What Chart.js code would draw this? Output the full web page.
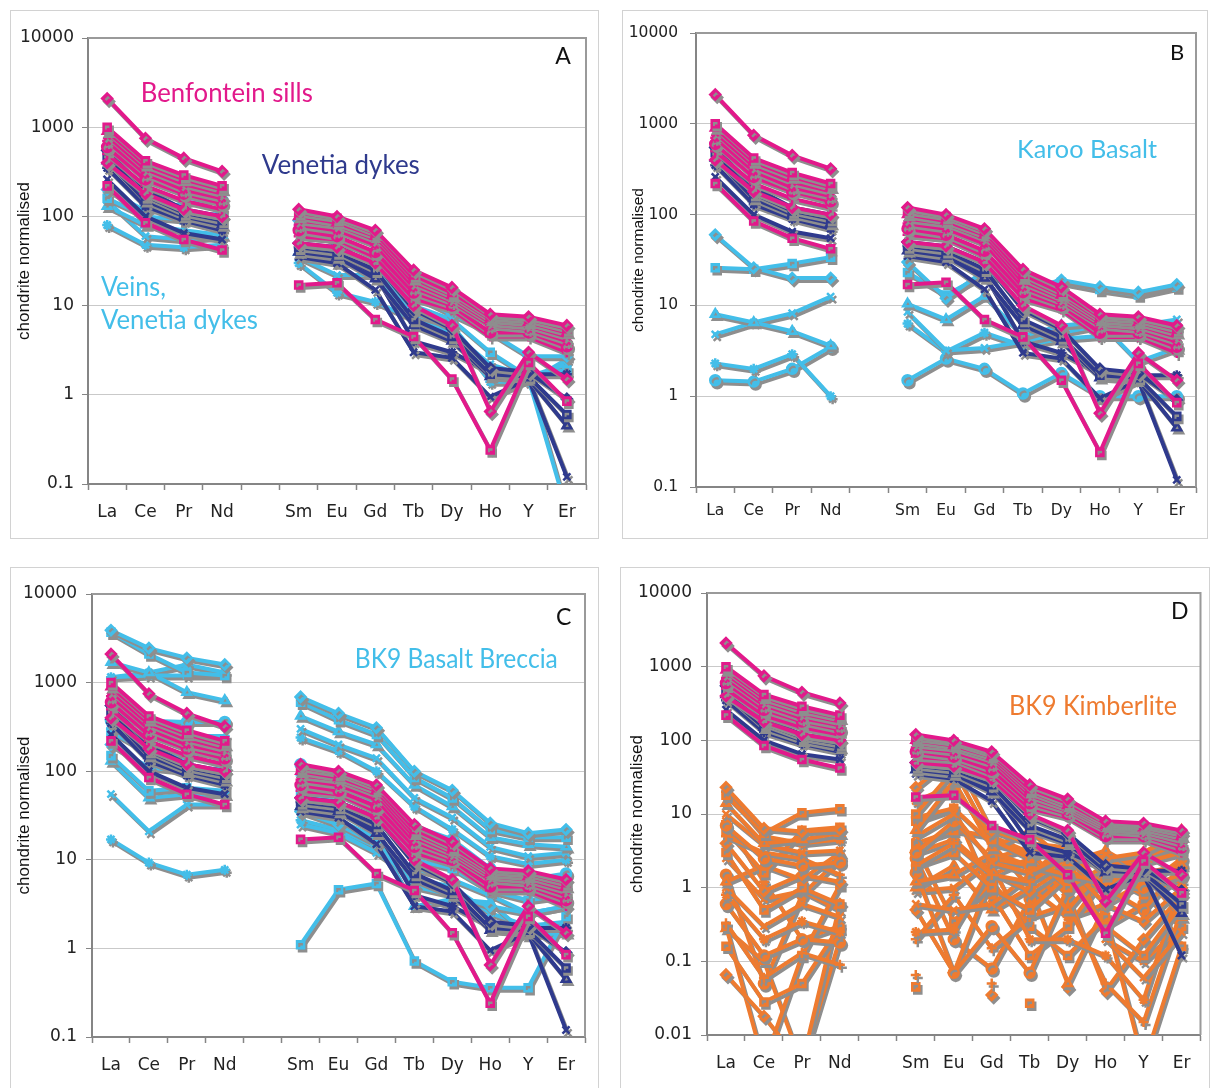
<!DOCTYPE html>
<html>
<head>
<meta charset="utf-8">
<script src="https://cdn.jsdelivr.net/npm/chart.js@4.4.0/dist/chart.umd.min.js"></script>
<style>
body { margin: 0; background: #fff; width: 1210px; height: 1088px; position: relative; overflow: hidden; }
.frame { position: absolute; border: 1.5px solid #d2d2d2; box-sizing: border-box; }
canvas { position: absolute; }
</style>
</head>
<body>
<div class="frame" style="left:10px;top:10px;width:589px;height:529px"></div>
<div class="frame" style="left:622px;top:10px;width:586px;height:529px"></div>
<div class="frame" style="left:10px;top:567px;width:589px;height:530px"></div>
<div class="frame" style="left:620px;top:567px;width:590px;height:530px"></div>
<canvas id="cA" width="588" height="528" style="left:10px;top:10px"></canvas>
<canvas id="cB" width="585" height="528" style="left:622px;top:10px"></canvas>
<canvas id="cC" width="588" height="521" style="left:10px;top:567px"></canvas>
<canvas id="cD" width="588" height="521" style="left:620px;top:567px"></canvas>
<script>
// element order (blank slot = gap between Nd and Sm)
const elements = ["La", "Ce", "Pr", "Nd", "", "Sm", "Eu", "Gd", "Tb", "Dy", "Ho", "Y", "Er"];
const decadeTicks = [0.1, 1, 10, 100, 1000, 10000];
const decadeLabels = ["0.1", "1", "10", "100", "1000", "10000"];
const decadeTicksD = [0.01, 0.1, 1, 10, 100, 1000, 10000];
const decadeLabelsD = ["0.01", "0.1", "1", "10", "100", "1000", "10000"];

// chondrite normalised values, one row per sample
const benfonteinSills = [
  [2100, 750, 450, 320, null, 120, 100, 70, 25, 16, 8, 7.5, 6],
  [1000, 420, 290, 220, null, 110, 95, 65, 22, 14, 7.5, 7, 5.5],
  [900, 380, 260, 200, null, 100, 85, 60, 20, 13, 7, 6.5, 5],
  [800, 340, 230, 180, null, 90, 80, 55, 18, 12, 6.5, 6, 4.5],
  [700, 300, 200, 160, null, 80, 70, 48, 16, 11, 6, 5.5, 4],
  [600, 260, 180, 140, null, 70, 60, 40, 14, 10, 5, 5, 3.5],
  [500, 220, 150, 120, null, 60, 55, 35, 12, 9, 4.5, 4.5, 3],
  [220, 85, 55, 42, null, 17, 18, 7, 4.5, 1.5, 0.24, 2.3, 0.85],
  [400, 180, 120, 100, null, 50, 45, 30, 10, 6, 0.65, 3, 1.5]
];
const venetiaDykes = [
  [550, 200, 120, 100, null, 50, 45, 30, 9, 5.5, 2, 1.8, 0.9],
  [480, 170, 110, 90, null, 45, 40, 25, 7, 4.5, 1.7, 1.6, 0.6],
  [420, 150, 100, 80, null, 40, 35, 20, 6, 4, 1.6, 1.5, 0.45],
  [260, 100, 65, 55, null, 35, 30, 15, 3, 2.6, 0.95, 1.5, 0.12],
  [350, 130, 90, 70, null, 45, 40, 22, 4, 3, 1.8, 1.7, 1.7]
];
const veinsVenetia = [
  [200, 115, 140, 160, null, 90, 70, 50, 13, 8, 5, 2.7, 2.7],
  [160, 100, 92, 110, null, 80, 50, 40, 10, 7, 3, 1.6, 1.9],
  [130, 80, 70, 62, null, 40, 30, 30, 8, 6, 1.8, 1.5, 0.05],
  [150, 60, 55, 60, null, 35, 22, 22, 7, 5, 2.2, 1.6, 2.2],
  [80, 48, 45, 48, null, 30, 14, 11, 7, 5, 1.4, 1.4, 2.5]
];
const karooBasalt = [
  [60, 26, 20, 20, null, 30, 12, 24, 15, 19, 16, 14, 17],
  [26, 25, 29, 34, null, 23, 13, 22, 16, 18, 15, 13, 16],
  [8, 6.5, 5.2, 3.6, null, 10.4, 7, 12.7, 4.6, 6, 6.5, 2.4, 3.4],
  [4.8, 6.5, 8.2, 12.5, null, 8.5, 3.2, 3.4, 4, 5, 6, 6, 7],
  [2.3, 2.0, 2.9, 1.0, null, 6.3, 3.1, 5, 3.6, 4.3, 4.6, 4.6, 5.5],
  [1.5, 1.45, 2.0, 3.5, null, 1.5, 2.6, 2.0, 1.07, 1.8, 1.0, 1.0, 1.0]
];
const bk9Breccia = [
  [3900, 2450, 1900, 1600, null, 690, 450, 310, 100, 61, 26, 20, 22],
  [3700, 2100, 1300, 1200, null, 600, 380, 260, 85, 50, 22, 18, 18],
  [1700, 1300, 780, 630, null, 420, 280, 200, 70, 40, 18, 15, 14],
  [1150, 1200, 1200, 1200, null, 300, 200, 140, 50, 30, 14, 11, 12],
  [1150, 1300, 1600, 1300, null, 240, 170, 100, 40, 22, 11, 9, 10],
  [370, 370, 360, 360, null, 120, 85, 60, 24, 17, 8, 6, 7],
  [300, 260, 250, 250, null, 90, 70, 40, 16, 12, 6, 4.5, 5],
  [280, 160, 150, 170, null, 60, 45, 30, 10, 8, 4.5, 3.5, 4],
  [200, 110, 100, 110, null, 35, 25, 15, 5, 4, 3, 2.5, 3],
  [150, 60, 65, 60, null, 1.1, 4.6, 5.4, 0.72, 0.42, 0.36, 0.36, 2.3],
  [130, 50, 55, 55, null, 40, 28, 18, 3, 3.6, 3.3, 1.4, 1.5],
  [55, 21, 42, 42, null, 25, 20, 12, 6, 5, 2.5, 1.8, 2],
  [17, 9.3, 6.8, 7.7, null, 28, 22, 14, 8, 6, 4, 2.5, 3]
];
const bk9Kimberlite = [
  [23, 6.4, 5.8, 6.2, null, 23, 60, 6, 4, 3.5, 2.5, 3, 5.5],
  [18, 5.5, 10.4, 11.8, null, 10, 40, 4.5, 2.5, 4, 1.5, 2.2, 3],
  [14, 4, 4.5, 5.5, null, 6, 28, 3.5, 6, 2.2, 3.2, 1.6, 2],
  [10, 3.8, 3, 3.2, null, 5, 10, 2.2, 1.6, 3, 1, 2.6, 4],
  [20, 5, 4, 4.5, null, 9, 12, 4, 3, 2.5, 2, 2.5, 3.5],
  [7, 2.5, 2, 2.2, null, 3, 8, 2.5, 2, 1.5, 1.2, 1, 2.5],
  [5, 3, 2.5, 1.5, null, 2, 4, 1.5, 1.2, 2.5, 0.8, 1.8, 0.9],
  [6, 1.6, 6, 6.6, null, 4, 6, 5, 3, 1, 2, 1, 1.5],
  [4, 0.9, 1.5, 1.2, null, 3, 4.5, 1.6, 0.9, 2, 0.6, 0.35, 1],
  [3, 0.5, 1, 0.6, null, 2, 3, 1, 0.5, 1.5, 0.3, 0.12, 0.6],
  [1.2, 2, 1.3, 3, null, 1.2, 1.5, 3, 2, 0.5, 2, 1.5, 0.4],
  [1, 0.3, 0.6, 0.4, null, 0.6, 0.5, 0.6, 1.5, 4, 0.2, 0.06, 0.25],
  [0.8, 0.2, 0.35, 0.25, null, 0.25, 0.27, 2, 0.2, 0.2, 0.12, 0.03, 1.2],
  [0.6, 0.12, 0.2, 0.18, null, 1.6, 0.07, 0.3, 0.07, 1, 1, 0.5, 2],
  [0.33, 0.06, 0.13, 0.09, null, 0.2, 0.8, 0.15, 0.4, 0.6, 0.05, 0.015, 0.5],
  [0.16, 0.028, 0.05, 0.3, null, 3.5, 0.35, 1.2, 0.3, 0.12, 0.4, 0.004, 0.16],
  [0.066, 0.018, 0.004, 0.6, null, 0.5, 0.07, 1.5, 2.5, 0.8, 0.04, 0.2, 0.8],
  [0.3, 0.004, 0.12, 1.1, null, 8, 12, 0.8, 0.12, 0.3, 1.5, 0.8, 0.3],
  [0.28, 0.1, 0.004, 0.2, null, 1, 2, 0.5, 1, 0.05, 0.6, 3, 6],
  [2.5, 0.7, 0.9, 0.5, null, 0.9, 1, 2.5, 3.5, 2.5, 0.2, 0.1, 0.3],
  [8, 1.2, 0.2, 0.3, null, 15, 25, 4, 1, 0.4, 0.6, 1.2, 0.16],
  [1.5, 0.05, 0.8, 2.5, null, 2.5, 0.2, 0.08, 0.7, 1.8, 0.3, 0.6, 1.5],
  [null, null, null, null, null, 0.065, null, 0.05, null, null, null, null, null],
  [null, null, null, null, null, 0.045, null, null, 0.027, null, null, null, null],
  [null, null, null, null, null, null, null, 0.035, null, 0.045, null, null, null]
];

const PINK = "#e2198b", NAVY = "#2f3a8d", BLUE = "#43bee9", ORANGE = "#ee7b30";
const markers = ["rectRot", "rect", "triangle", "crossRot", "star", "circle", "cross", "rect"];

function makeSets(rows, color) {
  return rows.map((row, i) => ({
    data: row,
    borderColor: color,
    backgroundColor: color,
    borderWidth: 4,
    pointStyle: markers[i % markers.length],
    pointRadius: 5,
    pointHoverRadius: 5,
    pointBorderWidth: 2.5,
    tension: 0,
    spanGaps: false
  }));
}

// grey drop shadow under every line + plot frame
const shadowPlugin = {
  id: "shadow",
  beforeDatasetsDraw(chart) {
    const c = chart.ctx, a = chart.chartArea;
    c.save();
    c.strokeStyle = "#9a9a9a";
    c.lineWidth = 2;
    c.beginPath();
    c.moveTo(a.left, a.top);
    c.lineTo(a.right, a.top);
    c.lineTo(a.right, a.bottom);
    c.stroke();
    c.restore();
    c.save();
    c.shadowColor = "#8e8e8e";
    c.shadowOffsetX = 2;
    c.shadowOffsetY = 3;
    c.shadowBlur = 0;
  },
  afterDatasetsDraw(chart) { chart.ctx.restore(); }
};

const notesPlugin = {
  id: "notes",
  afterDraw(chart, args, opts) {
    const c = chart.ctx, a = chart.chartArea;
    (opts.items || []).forEach(n => {
      c.save();
      c.font = n.size + "px Lato, 'Open Sans', sans-serif";
      c.fillStyle = n.color;
      c.textBaseline = "middle";
      const x = a.left + n.fx * (a.right - a.left);
      const y = a.top + n.fy * (a.bottom - a.top);
      const w = c.measureText(n.text).width;
      if (n.center) {
        c.textAlign = "center";
        c.fillText(n.text, x, y);
      } else {
        c.translate(x, y);
        c.scale(n.w ? n.w / w : 1, 1);
        c.textAlign = "left";
        c.fillText(n.text, 0, 0);
      }
      c.restore();
    });
  }
};

function makeChart(id, p) {
  new Chart(document.getElementById(id), {
    type: "line",
    data: { labels: elements, datasets: p.datasets },
    plugins: [shadowPlugin, notesPlugin],
    options: {
      responsive: false,
      animation: false,
      events: [],
      layout: { padding: { top: p.pt, right: p.pr, left: 0, bottom: 0 } },
      plugins: {
        legend: { display: false },
        tooltip: { enabled: false },
        notes: { items: p.notes }
      },
      scales: {
        x: {
          offset: true,
          grid: { offset: true, drawOnChartArea: false, tickLength: 6, tickColor: "#858585", tickWidth: 1.5 },
          border: { color: "#858585", width: 2 },
          ticks: { autoSkip: false, maxRotation: 0, padding: p.xpad, color: "#222", font: { family: "'DejaVu Sans'", size: p.fs } },
          afterFit: s => { s.height = p.xh; }
        },
        y: {
          type: "logarithmic",
          min: p.ticks[0],
          max: p.ticks[p.ticks.length - 1],
          afterBuildTicks: s => { s.ticks = p.ticks.map(v => ({ value: v })); },
          afterFit: s => { s.width = p.yw; },
          grid: { color: "#c9c9c9", lineWidth: 1, tickLength: 6, tickColor: "#858585" },
          border: { color: "#858585", width: 2 },
          ticks: {
            autoSkip: false,
            padding: p.ypad,
            color: "#222",
            font: { family: "'DejaVu Sans'", size: p.fs },
            callback: (v, i) => p.labels[i]
          },
          title: {
            display: true,
            text: "chondrite normalised",
            color: "#111",
            font: { family: "'Liberation Sans', Arial", size: p.fs },
            padding: { top: p.tpad, bottom: 0 }
          }
        }
      }
    }
  });
}

const base = (group) => makeSets(benfonteinSills, PINK).concat(makeSets(venetiaDykes, NAVY), group);

makeChart("cA", {
  datasets: base(makeSets(veinsVenetia, BLUE)),
  ticks: decadeTicks, labels: decadeLabels,
  pt: 28, pr: 12, yw: 78, xh: 54, fs: 17, xpad: 12, ypad: 8, tpad: 4,
  notes: [
    { text: "Benfontein sills", color: PINK, size: 26, w: 172, fx: 0.106, fy: 0.124 },
    { text: "Venetia dykes", color: NAVY, size: 26, w: 158, fx: 0.349, fy: 0.285 },
    { text: "Veins,", color: BLUE, size: 26, w: 65, fx: 0.026, fy: 0.559 },
    { text: "Venetia dykes", color: BLUE, size: 26, w: 157, fx: 0.026, fy: 0.633 },
    { text: "A", color: "#111", size: 23, center: true, fx: 0.954, fy: 0.041 }
  ]
});
makeChart("cB", {
  datasets: base(makeSets(karooBasalt, BLUE)),
  ticks: decadeTicks, labels: decadeLabels,
  pt: 23, pr: 11, yw: 74, xh: 51, fs: 15.5, xpad: 9, ypad: 12, tpad: 7,
  notes: [
    { text: "Karoo Basalt", color: BLUE, size: 25, w: 140, fx: 0.642, fy: 0.258 },
    { text: "B", color: "#111", size: 22, center: true, fx: 0.962, fy: 0.044 }
  ]
});
makeChart("cC", {
  datasets: base(makeSets(bk9Breccia, BLUE)),
  ticks: decadeTicks, labels: decadeLabels,
  pt: 27, pr: 13, yw: 82, xh: 51, fs: 17, xpad: 12, ypad: 9, tpad: 4,
  notes: [
    { text: "BK9 Basalt Breccia", color: BLUE, size: 26, w: 203, fx: 0.533, fy: 0.147 },
    { text: "C", color: "#111", size: 23, center: true, fx: 0.957, fy: 0.054 }
  ]
});
makeChart("cD", {
  datasets: base(makeSets(bk9Kimberlite, ORANGE)),
  ticks: decadeTicksD, labels: decadeLabelsD,
  pt: 26, pr: 6, yw: 87, xh: 53, fs: 17, xpad: 12, ypad: 9, tpad: 7,
  notes: [
    { text: "BK9 Kimberlite", color: ORANGE, size: 26, w: 168, fx: 0.612, fy: 0.258 },
    { text: "D", color: "#111", size: 23, center: true, fx: 0.958, fy: 0.043 }
  ]
});
</script>
</body>
</html>
